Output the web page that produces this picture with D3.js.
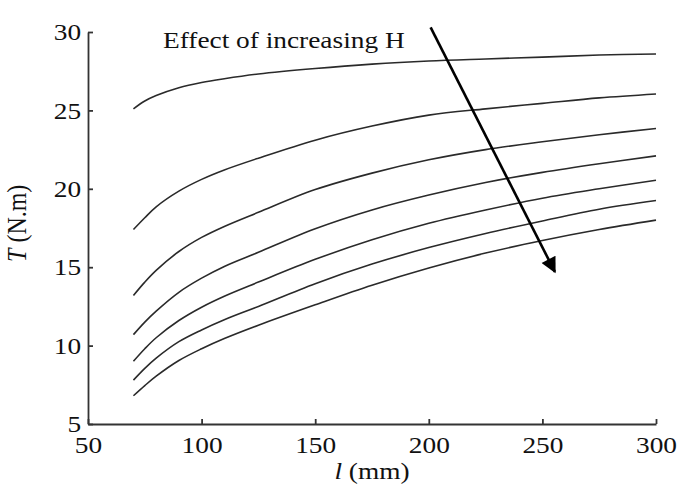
<!DOCTYPE html>
<html>
<head>
<meta charset="utf-8">
<script src="https://cdn.jsdelivr.net/npm/d3@7"></script>
<style>
  body { margin: 0; background: #fff; }
  text { font-family: "Liberation Serif", "Times New Roman", serif; fill: #111; }
</style>
</head>
<body>
<div id="chart"></div>
<script>
// l (mm) sample positions
var lengths = [70, 75, 80, 90, 100, 110, 125, 150, 175, 200, 225, 250, 275, 300];

// T (N.m), one curve per H value (top = smallest H)
var torqueH1 = [25.1, 25.6, 25.95, 26.45, 26.78, 27.02, 27.32, 27.67, 27.95, 28.15, 28.28, 28.4, 28.53, 28.6];
var torqueH2 = [17.4, 18.15, 18.85, 19.85, 20.6, 21.2, 21.95, 23.1, 24.0, 24.7, 25.1, 25.45, 25.8, 26.05];
var torqueH3 = [13.2, 14.05, 14.8, 16.0, 16.9, 17.6, 18.5, 19.95, 21.0, 21.85, 22.5, 23.0, 23.45, 23.85];
var torqueH4 = [10.7, 11.5, 12.2, 13.4, 14.3, 15.05, 15.95, 17.45, 18.65, 19.6, 20.4, 21.05, 21.6, 22.1];
var torqueH5 = [9.0, 9.8, 10.5, 11.6, 12.45, 13.15, 14.05, 15.5, 16.75, 17.8, 18.65, 19.4, 20.0, 20.55];
var torqueH6 = [7.8, 8.55, 9.2, 10.25, 11.0, 11.65, 12.5, 13.95, 15.2, 16.25, 17.15, 17.95, 18.7, 19.25];
var torqueH7 = [6.8, 7.45, 8.05, 9.05, 9.8, 10.45, 11.3, 12.6, 13.85, 14.95, 15.9, 16.7, 17.4, 18.0];

var xTicks = [50, 100, 150, 200, 250, 300];
var yTicks = [5, 10, 15, 20, 25, 30];

// arrow annotation: [l, T] start and end
var arrowFrom = [200.8, 30.3];
var arrowTo = [255.5, 14.7];
var annotation = "Effect of increasing H";

var series = [torqueH1, torqueH2, torqueH3, torqueH4, torqueH5, torqueH6, torqueH7];

var margin = {top: 32, right: 23, bottom: 63, left: 88},
  width = 679 - margin.left - margin.right,
  height = 487 - margin.top - margin.bottom;

var svg = d3.select("#chart").append("svg")
  .attr("width", 679)
  .attr("height", 487)
  .append("g")
  .attr("transform", "translate(" + margin.left + "," + margin.top + ")");

var x = d3.scaleLinear().domain([50, 300]).range([0, width]);
var y = d3.scaleLinear().domain([5, 30]).range([height, 0]);

var fontSize = "24px";
var stretch = "scale(1.14,1)";

// axes, ticks pointing inward
var xAxis = svg.append("g")
  .attr("transform", "translate(0," + height + ")")
  .call(d3.axisBottom(x).tickValues(xTicks).tickSizeInner(-5).tickSizeOuter(0).tickPadding(12));

var yAxis = svg.append("g")
  .call(d3.axisLeft(y).tickValues(yTicks).tickSizeInner(-5).tickSizeOuter(0).tickPadding(6));

[xAxis, yAxis].forEach(function (a) {
  a.selectAll("path, line").attr("stroke", "#333").attr("stroke-width", 1.8);
  a.selectAll("text")
    .style("font-family", "'Liberation Serif', 'Times New Roman', serif")
    .style("font-size", fontSize)
    .attr("fill", "#111")
    .attr("transform", stretch);
});

// the "5" label sits just above the "50" label
yAxis.selectAll(".tick text").filter(function (d) { return d === 5; }).attr("dy", "0.3em");

// curves
var line = d3.line()
  .x(function (d, i) { return x(lengths[i]); })
  .y(function (d) { return y(d); })
  .curve(d3.curveCatmullRom.alpha(0.5));

svg.selectAll(".curve")
  .data(series)
  .enter().append("path")
  .attr("class", "curve")
  .attr("d", line)
  .attr("fill", "none")
  .attr("stroke", "#2a2a2a")
  .attr("stroke-width", 1.6);

// arrow
svg.append("defs").append("marker")
  .attr("id", "head")
  .attr("viewBox", "0 0 10 10")
  .attr("refX", 9)
  .attr("refY", 5)
  .attr("markerWidth", 7)
  .attr("markerHeight", 6)
  .attr("markerUnits", "strokeWidth")
  .attr("orient", "auto")
  .append("path")
  .attr("d", "M0,0 L10,5 L0,10 Z")
  .attr("fill", "#000");

svg.append("line")
  .attr("x1", x(arrowFrom[0])).attr("y1", y(arrowFrom[1]))
  .attr("x2", x(arrowTo[0])).attr("y2", y(arrowTo[1]))
  .attr("stroke", "#000")
  .attr("stroke-width", 2.6)
  .attr("marker-end", "url(#head)");

svg.append("text")
  .attr("transform", "translate(" + x(83) + "," + y(29.0) + ") " + stretch)
  .style("font-size", fontSize)
  .text(annotation);

// axis titles
var xTitle = svg.append("text")
  .attr("transform", "translate(" + (width / 2) + "," + (height + 55) + ") " + stretch)
  .attr("text-anchor", "middle")
  .style("font-size", fontSize);
xTitle.append("tspan").style("font-style", "italic").text("l");
xTitle.append("tspan").text(" (mm)");

var yTitle = svg.append("text")
  .attr("transform", "translate(" + (-62) + "," + y(17.8) + ") rotate(-90) scale(1,1.14)")
  .attr("text-anchor", "middle")
  .style("font-size", fontSize);
yTitle.append("tspan").style("font-style", "italic").text("T");
yTitle.append("tspan").text(" (N.m)");
</script>
</body>
</html>
